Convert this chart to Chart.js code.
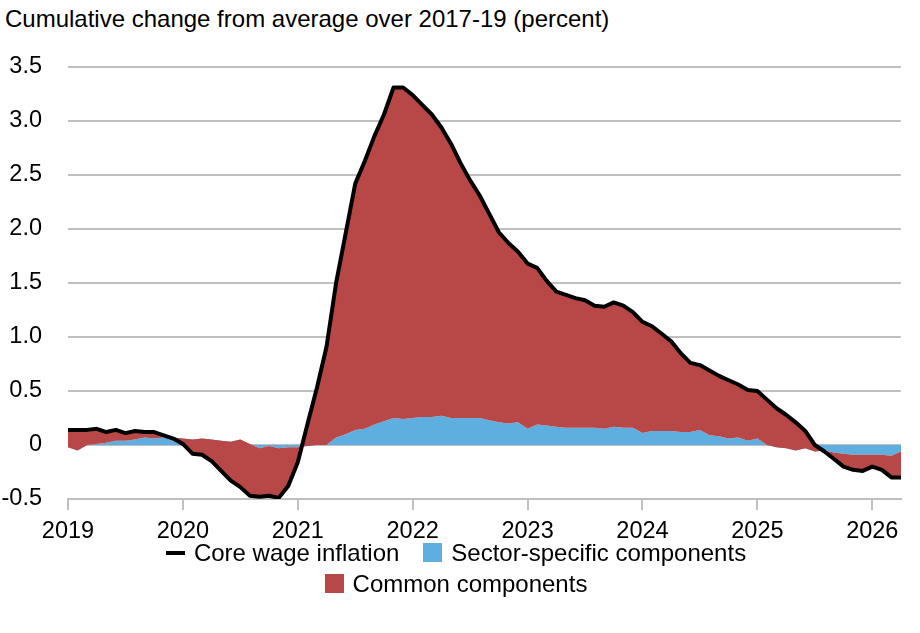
<!DOCTYPE html>
<html>
<head>
<meta charset="utf-8">
<script src="https://cdn.jsdelivr.net/npm/chart.js@4/dist/chart.umd.min.js"></script>
<style>
  body { margin: 0; background: #fff; font-family: "Liberation Sans", Arial, sans-serif; }
  #wrap { position: relative; width: 920px; height: 633px; }
  #titulo { position: absolute; left: 5px; top: 5px; font-size: 24px; color: #000; white-space: nowrap; }
  #grafico { position: absolute; left: 0; top: 0; }
  #leyenda { position: absolute; left: 0; top: 537px; width: 912px; font-size: 24px; color: #000; }
  .fila { display: flex; justify-content: center; align-items: center; height: 31px; }
  .item { display: flex; align-items: center; margin: 0 12px; }
  .marca { width: 19px; height: 19px; margin-right: 9px; }
  .marca.linea { height: 4px; }
</style>
</head>
<body>
<div id="wrap">
  <div id="titulo">Cumulative change from average over 2017-19 (percent)</div>
  <canvas id="grafico" width="920" height="545"></canvas>
  <div id="leyenda"></div>
</div>
<script>
// Datos mensuales, enero 2019 a abril 2026
const startYear = 2019;
const coreWage = [
  0.14, 0.14, 0.14, 0.15, 0.12, 0.14, 0.11, 0.13, 0.12, 0.12, 0.09, 0.06,
  0.01, -0.08, -0.09, -0.15, -0.24, -0.33, -0.39, -0.47, -0.48, -0.47, -0.49, -0.38,
  -0.16, 0.19, 0.53, 0.91, 1.50, 1.96, 2.42, 2.63, 2.86, 3.06, 3.31, 3.31,
  3.24, 3.15, 3.06, 2.94, 2.79, 2.61, 2.45, 2.31, 2.14, 1.97, 1.87, 1.79,
  1.68, 1.64, 1.52, 1.42, 1.39, 1.36, 1.34, 1.29, 1.28, 1.32, 1.29, 1.23,
  1.14, 1.10, 1.03, 0.96, 0.85, 0.76, 0.74, 0.69, 0.64, 0.60, 0.56, 0.51,
  0.50, 0.42, 0.34, 0.28, 0.21, 0.13, 0.00, -0.06, -0.13, -0.20, -0.23, -0.24,
  -0.20, -0.23, -0.30, -0.30
];
const sectorSpecific = [
  -0.02, -0.05, 0.00, 0.01, 0.02, 0.04, 0.04, 0.05, 0.07, 0.06, 0.07, 0.07,
  0.06, 0.05, 0.06, 0.05, 0.04, 0.03, 0.05, 0.01, -0.03, -0.01, -0.03, -0.02,
  -0.02, -0.01, 0.00, 0.00, 0.07, 0.10, 0.14, 0.15, 0.19, 0.22, 0.25, 0.24,
  0.25, 0.26, 0.26, 0.27, 0.25, 0.25, 0.25, 0.25, 0.23, 0.21, 0.20, 0.21,
  0.15, 0.19, 0.18, 0.17, 0.16, 0.16, 0.16, 0.16, 0.15, 0.17, 0.16, 0.16,
  0.11, 0.13, 0.13, 0.13, 0.12, 0.12, 0.14, 0.09, 0.08, 0.06, 0.07, 0.04,
  0.06, 0.00, -0.02, -0.03, -0.05, -0.03, -0.06, -0.05, -0.07, -0.08, -0.09, -0.09,
  -0.09, -0.09, -0.10, -0.06
];
const yTicks = [-0.5, 0, 0.5, 1.0, 1.5, 2.0, 2.5, 3.0, 3.5];

const ROJO = '#B84848';
const AZUL = '#5EAEE0';
const GRIS = '#c0c0c0';
const FUENTE = { family: '"Liberation Sans", Arial, sans-serif', size: 23.5 };

// Etiquetas de meses (una por punto)
const months = coreWage.map((_, i) => `${startYear + Math.floor(i / 12)}-${String(i % 12 + 1).padStart(2, '0')}`);

const datasets = [
  {
    label: 'Core wage inflation',
    data: coreWage,
    borderColor: '#000',
    borderWidth: 4,
    borderJoinStyle: 'round',
    pointRadius: 0,
    fill: false,
    order: 0
  },
  {
    label: 'Sector-specific components',
    data: sectorSpecific,
    borderWidth: 0,
    borderColor: AZUL,
    backgroundColor: AZUL,
    pointRadius: 0,
    fill: 'origin',
    order: 2
  },
  {
    // El área roja va desde los componentes sectoriales hasta la línea total
    label: 'Common components',
    data: coreWage,
    borderWidth: 0,
    borderColor: ROJO,
    backgroundColor: ROJO,
    pointRadius: 0,
    fill: 1,
    order: 1
  }
];

new Chart(document.getElementById('grafico'), {
  type: 'line',
  data: { labels: months, datasets: datasets },
  options: {
    responsive: false,
    animation: false,
    layout: { padding: { top: 67, right: 19, left: 0, bottom: 0 } },
    plugins: { legend: { display: false }, tooltip: { enabled: false } },
    scales: {
      x: {
        offset: false,
        afterFit: (scale) => { scale.height = 545 - 499; },
        border: { display: true, color: GRIS, width: 2 },
        grid: {
          drawOnChartArea: false,
          drawTicks: true,
          tickLength: 11,
          lineWidth: 2,
          color: (ctx) => (ctx.index % 12 === 0 ? GRIS : 'rgba(0,0,0,0)')
        },
        ticks: {
          autoSkip: false,
          maxRotation: 0,
          padding: 7,
          color: '#000',
          font: FUENTE,
          callback: (v, i) => (i % 12 === 0 ? String(startYear + i / 12) : '')
        }
      },
      y: {
        min: -0.5,
        max: 3.5,
        afterFit: (scale) => { scale.width = 68; },
        afterBuildTicks: (scale) => { scale.ticks = yTicks.map(v => ({ value: v })); },
        border: { display: false },
        grid: { color: GRIS, lineWidth: 2, drawTicks: false },
        ticks: {
          padding: 26,
          color: '#000',
          font: FUENTE,
          callback: (v) => (v === 0 ? '0' : v.toFixed(1))
        }
      }
    }
  }
});

// Leyenda en HTML: dos filas como en el original
const filas = [[0, 1], [2]];
const leyenda = document.getElementById('leyenda');
filas.forEach(fila => {
  const div = document.createElement('div');
  div.className = 'fila';
  fila.forEach(idx => {
    const ds = datasets[idx];
    const item = document.createElement('div');
    item.className = 'item';
    const marca = document.createElement('span');
    marca.className = idx === 0 ? 'marca linea' : 'marca';
    marca.style.background = idx === 0 ? ds.borderColor : ds.backgroundColor;
    const texto = document.createElement('span');
    texto.textContent = ds.label;
    item.appendChild(marca);
    item.appendChild(texto);
    div.appendChild(item);
  });
  leyenda.appendChild(div);
});
</script>
</body>
</html>
